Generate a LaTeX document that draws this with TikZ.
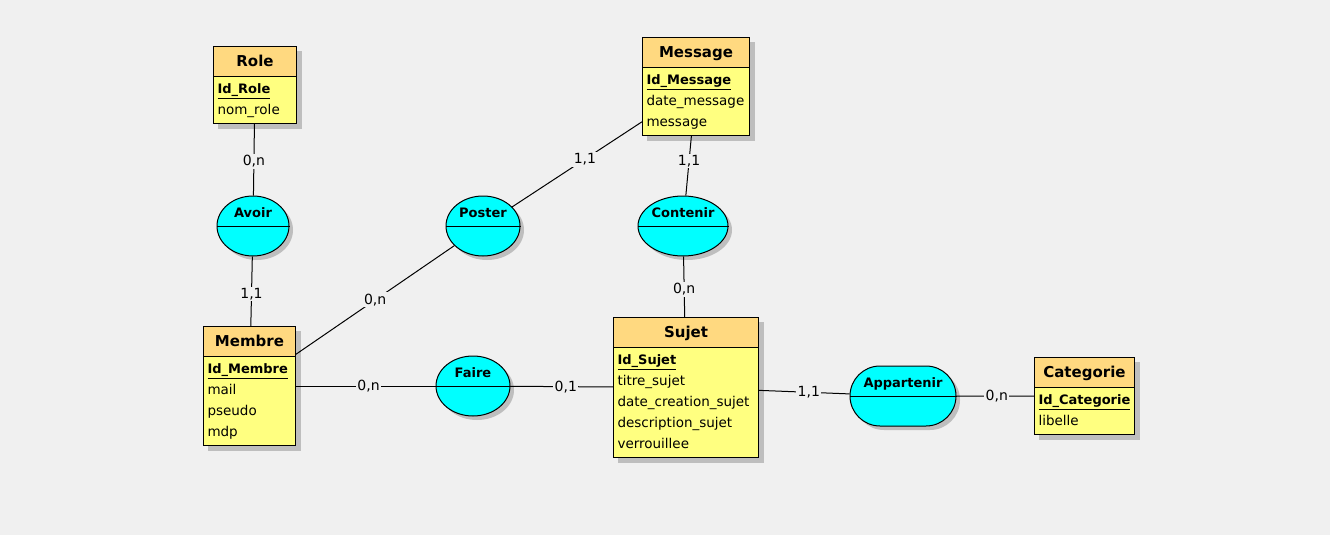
\documentclass[tikz,border=0pt]{standalone}
\usepackage{fontspec}
\setmainfont{DejaVu Sans}
\usetikzlibrary{shapes.multipart, shapes.misc, shapes.geometric, shadows, positioning}
\definecolor{mcdbg}{RGB}{240,240,240}
\definecolor{hdrorange}{RGB}{255,217,128}
\definecolor{bodyyellow}{RGB}{255,255,128}
\definecolor{assoccyan}{RGB}{0,255,255}
\definecolor{shadowgray}{RGB}{190,190,190}
\pgfdeclarelayer{page}
\pgfdeclarelayer{shade}
\pgfsetlayers{page,shade,main}
\tikzset{
  entity/.style={rectangle split, rectangle split parts=2, draw=black, line width=1pt, rectangle split part fill={hdrorange,bodyyellow}, rectangle split part align={center,left}, align=left, inner xsep=4pt, inner ysep=2pt, anchor=north west, font=\fontsize{13.5}{21}\selectfont},
  assoc/.style={ellipse, draw=black, line width=1pt, fill=assoccyan, minimum width=74pt, minimum height=60pt, inner sep=0pt, text height=11pt, text depth=29pt, font=\fontsize{13}{15}\selectfont\bfseries, drop shadow={shadow xshift=4pt, shadow yshift=-4pt, fill=shadowgray, opacity=1}},
  assocround/.style={assoc, rounded rectangle},
  divider/.style={line width=1pt, color=black},
  link/.style={line width=1pt, color=black},
  card/.style={fill=mcdbg, inner sep=1.5pt, font=\fontsize{14}{16}\selectfont}
}
\begin{document}
\begin{tikzpicture}[x=1pt, y=-1pt]
  % page
  \begin{pgfonlayer}{page}
    \fill[mcdbg] (0,0) rectangle (1330,535);
  \end{pgfonlayer}
  \useasboundingbox (0,0) rectangle (1330,535);

  % Entities
  \node[entity, minimum width=83pt] (role) at (213,46) {{\fontsize{15}{25}\selectfont\bfseries\strut Role}
    \nodepart{two}\strut{\fontsize{13}{21}\selectfont\bfseries\underline{Id\_Role}}\\\strut nom\_role};
  \node[entity, minimum width=107pt] (message) at (642,37) {{\fontsize{15}{25}\selectfont\bfseries\strut Message}
    \nodepart{two}\strut{\fontsize{13}{21}\selectfont\bfseries\underline{Id\_Message}}\\\strut date\_message\\\strut message};
  \node[entity, minimum width=92pt] (membre) at (203,326) {{\fontsize{15}{25}\selectfont\bfseries\strut Membre}
    \nodepart{two}\strut{\fontsize{13}{21}\selectfont\bfseries\underline{Id\_Membre}}\\\strut mail\\\strut pseudo\\\strut mdp};
  \node[entity, minimum width=145pt] (sujet) at (613,317) {{\fontsize{15}{25}\selectfont\bfseries\strut Sujet}
    \nodepart{two}\strut{\fontsize{13}{21}\selectfont\bfseries\underline{Id\_Sujet}}\\\strut titre\_sujet\\\strut date\_creation\_sujet\\\strut description\_sujet\\\strut verrouillee};
  \node[entity, minimum width=96pt] (categorie) at (1034,357) {{\fontsize{15}{25}\selectfont\bfseries\strut Categorie}
    \nodepart{two}\strut{\fontsize{13}{21}\selectfont\bfseries\underline{Id\_Categorie}}\\\strut libelle};
  \begin{pgfonlayer}{shade}
    \foreach \e in {role, message, membre, sujet, categorie}
      \fill[shadowgray] ([shift={(5,5)}]\e.north west) rectangle ([shift={(5,5)}]\e.south east);
  \end{pgfonlayer}

  % Associations
  \node[assoc, minimum width=72pt] (avoir) at (253,226) {Avoir};
  \node[assoc] (poster) at (483,226) {Poster};
  \node[assoc, minimum width=90pt] (contenir) at (683,226) {Contenir};
  \node[assoc] (faire) at (473,386) {Faire};
  \node[assocround, minimum width=106pt] (appartenir) at (903,396) {Appartenir};
  \foreach \a in {avoir, poster, contenir, faire, appartenir}
    \draw[divider] (\a.west) -- (\a.east);

  % Links with cardinalities
  \draw[link] (role) -- node[card, pos=0.52] {0,n} (avoir);
  \draw[link] (avoir) -- node[card, pos=0.54] {1,1} (membre);
  \draw[link] (membre) -- node[card] {0,n} (poster);
  \draw[link] (poster) -- node[card, pos=0.56] {1,1} (message);
  \draw[link] (message) -- node[card, pos=0.42] {1,1} (contenir);
  \draw[link] (contenir) -- node[card, pos=0.54] {0,n} (sujet);
  \draw[link] (membre) -- node[card, pos=0.52] {0,n} (faire);
  \draw[link] (faire) -- node[card, pos=0.54] {0,1} (sujet);
  \draw[link] (sujet) -- node[card, pos=0.55] {1,1} (appartenir);
  \draw[link] (appartenir) -- node[card, pos=0.52] {0,n} (categorie);
\end{tikzpicture}
\end{document}
